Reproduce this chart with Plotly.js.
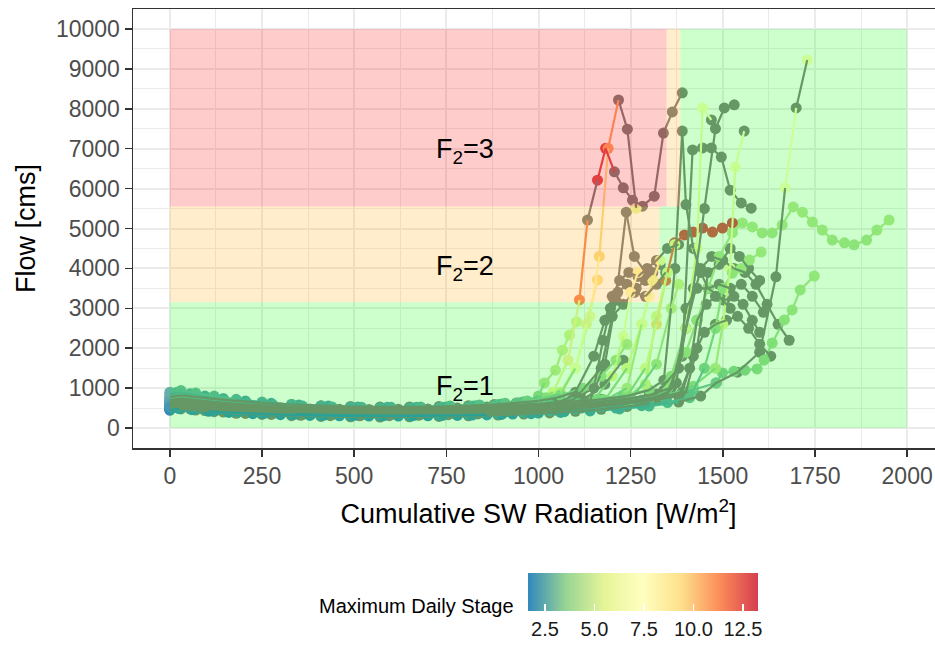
<!DOCTYPE html>
<html><head><meta charset="utf-8">
<script src="https://cdn.plot.ly/plotly-3.0.1.min.js"></script>
<style>html,body{margin:0;padding:0;overflow:hidden;background:#fff}#chart{width:944px;height:645px}</style>
</head><body><div id="chart"></div>
<script>
// ---------- data (Cumulative SW radiation, flow, maximum daily stage; null = no stage) ----------
const c1x=[0,20,50,90,140,200,270,350,430,510,590,670,750,830,900,960,1000,1016,1046,1065,1084,1103];
const c1y=[650,720,690,640,590,540,500,470,450,440,440,450,470,500,550,640,800,1130,1450,1950,2330,2660];
const c1s=[2.4,2.5,2.5,2.4,2.4,2.3,2.3,2.3,2.3,2.3,2.3,2.4,2.4,2.5,2.7,3.0,3.5,4.3,4.7,5.0,5.2,5.4];

const c2x=[0,30,70,120,180,250,330,410,490,570,650,730,810,890,960,1030,1100,1180,1260,1340,1420,1482,1499,1530,1560,1593,1612,1634,1667,1688,1710,1748];
const c2y=[520,560,520,470,420,380,350,330,320,320,325,335,350,370,400,440,500,580,680,800,960,1130,1380,1420,1450,1480,1700,2130,2710,2960,3460,3810];
const c2s=[1.64,1.8,1.8,1.8,1.8,1.8,1.8,1.8,1.8,1.8,1.8,1.9,1.9,2.0,2.0,2.1,2.2,2.3,2.5,2.7,2.9,3.1,3.3,3.4,3.4,3.5,3.6,3.8,4.0,4.1,4.2,4.3];

const c3x=[0,25,60,110,170,240,320,400,480,560,640,720,800,880,950,1020,1090,1160,1230,1300,1360,1400,1430,1460,1490,1526,1553,1580,1607,1634,1661,1691,1716,1743,1770,1797,1830,1856,1890,1918,1951];
const c3y=[600,650,610,560,510,470,440,420,410,410,420,430,450,480,520,570,640,720,820,960,1300,1900,2700,3500,4300,4900,5140,5040,4890,4890,5090,5540,5410,5160,4960,4710,4640,4590,4710,4960,5210];
const c3s=[2.5,2.6,2.6,2.5,2.5,2.4,2.4,2.4,2.4,2.4,2.4,2.5,2.5,2.6,2.7,2.8,3.0,3.2,3.4,3.6,3.8,4.0,4.1,4.2,4.2,4.3,4.3,4.3,4.2,4.2,4.3,4.4,4.4,4.3,4.3,4.2,4.2,4.1,4.2,4.3,4.4];

const c4x=[0,30,70,120,180,250,330,410,490,570,650,730,810,890,960,1030,1100,1170,1240,1290,1320,1345,1369,1396,1420,1445,1472,1499,1526];
const c4y=[560,600,560,520,480,440,410,390,380,380,390,400,420,450,480,520,580,660,800,1500,2600,3700,4640,4840,4910,5010,4910,5010,5140];
const c4s=[2.0,2.1,2.1,2.0,2.0,1.9,1.9,1.9,1.9,1.9,1.9,2.0,2.0,2.1,2.2,2.3,2.5,2.8,3.5,6.0,9.5,12.0,12.8,13.0,13.0,13.1,13.0,13.1,13.26];

const c5x=[0,25,60,100,150,210,280,350,420,500,580,660,740,820,890,950,1000,1040,1080,1111,1133,1160,1182,1206,1230,1255,1282,1314,1339,1363,1390];
const c5y=[720,780,740,690,640,590,550,520,500,490,490,500,520,550,590,640,720,900,1700,3210,5210,6210,7010,6420,6020,5710,5560,5810,7390,7920,8400];
const c5s=[2.6,2.7,2.7,2.6,2.6,2.5,2.5,2.4,2.4,2.4,2.4,2.5,2.6,2.7,2.9,3.2,3.8,5.5,8.5,11.5,null,12.8,12.9,null,null,null,null,null,null,null,null];

const c6x=[0,20,55,95,145,205,275,350,430,510,590,670,750,830,900,960,1010,1060,1100,1140,1165,1189,1217,1241,1265];
const c6y=[850,900,860,800,740,680,620,580,550,530,520,520,530,560,600,660,740,850,1500,2800,4300,7010,8220,7490,5510];
const c6s=[2.3,2.4,2.4,2.3,2.3,2.2,2.2,2.2,2.2,2.2,2.2,2.3,2.3,2.4,2.5,2.8,3.2,4.0,6.0,8.0,9.5,10.8,null,null,6.0];

const c7x=[0,30,70,120,180,250,330,410,490,570,650,730,810,890,960,1030,1100,1170,1240,1300,1350,1400,1430,1445,1469];
const c7y=[480,520,490,450,410,370,340,320,310,310,315,325,340,360,390,430,480,540,620,720,1000,2500,4500,8020,7720];
const c7s=[1.9,2.0,2.0,1.9,1.9,1.8,1.8,1.8,1.8,1.8,1.8,1.9,1.9,2.0,2.1,2.2,2.3,2.5,2.8,3.2,4.0,5.5,6.5,7.2,null];

const c8x=[0,25,65,110,165,230,305,385,465,545,625,705,785,865,935,1000,1070,1140,1210,1280,1350,1420,1480,1500,1520,1534,1558];
const c8y=[540,590,550,500,460,420,390,370,360,355,360,370,385,405,430,460,500,550,620,700,820,1050,1500,2600,4000,6540,7440];
const c8s=[2.1,2.2,2.2,2.1,2.1,2.0,2.0,2.0,2.0,2.0,2.0,2.0,2.1,2.1,2.2,2.3,2.4,2.5,2.7,2.9,3.2,3.6,4.5,5.5,6.5,7.0,null];

const c9x=[0,35,80,130,190,260,340,420,500,580,660,740,820,900,980,1060,1140,1220,1300,1380,1440,1482,1540,1600,1644,1669,1699,1729];
const c9y=[500,540,500,460,420,380,350,330,315,310,310,315,325,340,360,390,430,480,550,650,800,1130,1400,1900,3790,6020,8020,9220];
const c9s=[1.8,1.9,1.9,1.8,1.8,1.8,1.7,1.7,1.7,1.7,1.7,1.8,1.8,1.8,1.9,2.0,2.1,2.2,2.4,null,null,null,null,null,null,7.5,null,7.6];

const c10x=[0,25,60,100,150,210,280,360,440,520,600,680,760,840,910,970,1020,1060,1100,1130,1160];
const c10y=[760,820,780,720,670,620,580,550,530,520,520,530,550,580,620,680,760,900,1500,2600,3710];
const c10s=[2.5,2.6,2.6,2.5,2.5,2.4,2.4,2.4,2.4,2.4,2.4,2.5,2.6,2.7,2.9,3.2,3.8,5.0,7.0,8.5,9.3];

const c11x=[0,30,70,120,180,250,330,410,490,570,650,730,810,890,960,1030,1100,1150,1200,1230,1250,1270];
const c11y=[620,660,620,580,540,500,470,450,440,440,445,455,470,490,520,560,620,700,1300,2300,3400,3900];
const c11s=[2.2,2.3,2.3,2.2,2.2,2.1,2.1,2.1,2.1,2.1,2.1,2.2,2.2,2.3,2.4,2.6,2.9,3.5,5.5,7.0,7.8,8.0];

const c12x=[0,20,55,95,145,205,275,355,435,515,595,675,755,835,905,970,1040,1110,1180,1240,1280,1310,1330];
const c12y=[580,630,590,540,500,460,430,410,400,395,400,410,425,445,470,505,550,610,700,1000,2600,3700,4200];
const c12s=[2.0,2.1,2.1,2.0,2.0,1.9,1.9,1.9,1.9,1.9,1.9,2.0,2.0,2.1,2.2,2.3,2.5,2.8,3.3,4.5,5.5,6.2,6.5];

const c13x=[0,30,70,120,180,250,330,410,490,570,650,730,810,890,960,1030,1100,1170,1240,1290,1320,1350,1370];
const c13y=[660,700,660,610,560,520,490,470,460,455,460,470,490,520,550,590,640,700,780,1100,2800,3900,4600];
const c13s=[2.4,2.5,2.5,2.4,2.4,2.3,2.3,2.3,2.3,2.3,2.3,2.4,2.4,2.5,2.6,2.8,3.0,3.4,4.0,5.0,5.8,6.0,6.1];

const c14x=[0,25,60,105,160,225,300,380,460,540,620,700,780,860,930,1000,1070,1140,1210,1280,1350,1410,1450,1480,1500,1526,1550,1572,1604];
const c14y=[450,490,460,420,390,360,335,315,305,300,300,305,315,330,350,375,410,450,500,560,640,760,1500,2500,3500,3880,4000,4210,4410];
const c14s=[1.7,1.8,1.8,1.7,1.7,1.7,1.7,1.7,1.7,1.7,1.7,1.7,1.7,1.8,1.8,1.9,2.0,2.1,2.2,2.3,2.5,2.8,3.3,3.8,4.0,4.2,4.3,4.3,4.4];

const c15x=[0,30,70,120,180,250,330,410,490,570,650,730,810,880,940,1000,1060,1120,1170,1210,1240];
const c15y=[900,940,880,800,720,650,590,550,520,500,495,500,520,560,620,700,820,1000,1300,1700,2100];
const c15s=[2.6,2.7,2.7,2.6,2.5,2.4,2.4,2.3,2.3,2.3,2.3,2.4,2.5,2.6,2.8,3.0,3.3,3.6,3.9,4.2,4.5];

const c16x=[0,30,75,125,185,255,335,415,495,575,655,735,815,895,965,1035,1105,1180,1240,1280,1300];
const c16y=[590,630,600,555,515,475,445,425,415,410,415,425,440,465,495,535,600,700,1500,2600,3300];
const c16s=[2.3,2.4,2.4,2.3,2.3,2.2,2.2,2.2,2.2,2.2,2.2,2.3,2.3,2.4,2.5,2.7,3.0,3.6,5.5,6.8,7.2];

const c17x=[0,25,65,115,175,245,325,405,485,565,645,725,805,885,955,1025,1095,1165,1250,1320,1360,1380];
const c17y=[530,570,540,500,460,420,390,370,360,355,360,370,385,405,430,465,510,570,700,1600,3000,3600];
const c17s=[2.0,2.1,2.1,2.0,2.0,1.9,1.9,1.9,1.9,1.9,1.9,2.0,2.0,2.1,2.2,2.3,2.5,2.7,3.2,4.2,4.8,5.0];

// series without stage record (drawn in the NA colour)
const g1x=[0,30,70,120,180,250,330,410,490,570,650,730,810,890,960,1030,1100,1170,1240,1300,1350,1390,1418,1445,1469,1496,1520,1550,1577];
const g1y=[560,600,560,510,470,430,400,380,370,365,370,380,395,415,440,470,510,560,620,700,900,1800,6970,7020,7020,6790,5960,5640,5510];
const g2x=[0,25,60,105,160,225,300,380,460,540,620,700,780,860,930,1000,1080,1160,1240,1320,1380,1420,1450,1480,1504,1531];
const g2y=[620,680,640,590,540,500,460,440,425,420,425,435,450,470,500,540,590,650,730,850,1500,3500,5500,7500,8020,8100];
const g3x=[0,30,70,120,180,250,330,410,490,570,650,730,810,890,960,1030,1100,1170,1240,1300,1340,1370,1390,1400,1420,1440,1460,1490,1520];
const g3y=[700,740,700,650,600,560,520,500,490,485,490,500,520,545,575,610,660,720,800,950,1200,4000,7440,5600,4500,3900,3500,3300,3000];
const g4x=[0,25,60,100,150,210,280,360,440,520,600,680,760,840,910,980,1050,1120,1190,1260,1330,1347,1374,1400,1430,1460,1490,1520,1550,1580,1610];
const g4y=[500,540,510,470,430,395,365,345,335,330,335,345,360,380,405,435,475,525,590,680,800,830,1130,3000,3500,3500,3600,3500,3600,3300,2900];
const g5x=[0,30,70,120,180,250,330,410,490,570,650,730,810,890,960,1030,1100,1170,1240,1300,1340,1360,1400,1440,1470,1500,1530,1560,1590,1620,1650,1680];
const g5y=[640,680,640,600,560,520,490,470,460,455,460,470,485,505,530,560,600,650,720,820,950,1000,2500,4000,4300,4200,4000,3900,3600,3100,2600,2200];
const g6x=[0,20,55,95,145,205,275,355,435,515,595,675,755,835,905,975,1045,1115,1185,1255,1325,1390,1420,1450,1480,1510,1540,1570,1600,1630];
const g6y=[470,510,480,440,400,365,340,320,310,305,310,320,335,355,380,410,450,500,560,640,760,900,1800,2400,2600,2700,2800,2500,2100,1800];
const g7x=[0,30,70,120,180,250,330,410,490,570,650,730,810,880,940,1000,1050,1100,1150,1180,1200,1220,1245,1270,1295,1320,1350,1380];
const g7y=[780,820,780,730,680,630,590,560,540,530,530,540,560,590,630,680,760,900,1800,2700,3300,3700,3900,3800,4000,4200,4500,4600];
const g8x=[0,25,60,105,160,225,300,380,460,540,620,700,780,860,930,995,1055,1115,1170,1200,1230,1260,1290,1320,1345];
const g8y=[660,700,670,620,580,540,500,480,470,465,470,480,500,525,555,595,650,900,1500,2800,3100,3400,3300,3600,3900];
const g9x=[0,30,70,120,180,250,330,410,490,570,650,730,810,890,960,1030,1100,1170,1240,1300];
const g9y=[450,480,450,410,370,340,310,290,280,275,280,290,305,325,350,380,420,470,540,620];
const g10x=[0,25,60,100,150,210,280,360,440,520,600,680,760,840,910,980,1050,1120,1180,1230];
const g10y=[600,640,610,570,530,490,460,440,430,425,430,440,455,475,505,545,600,700,1100,1700];
const g11x=[0,30,70,120,180,250,330,410,490,570,650,730,810,890,960,1030,1090,1140,1180,1210,1238,1260,1290];
const g11y=[540,580,550,510,470,440,410,395,385,380,385,395,410,430,455,490,540,700,1600,3200,5410,4300,3900];
const g12x=[0,30,70,120,180,250,330,410,490,570,650,730,810,890,960,1030,1090,1150,1175,1195,1215,1240,1265,1290,1310,1330];
const g12y=[680,720,690,640,600,560,530,510,500,495,500,510,530,555,585,620,700,1000,2200,3000,3400,3600,3500,3700,3900,4100];
const g13x=[0,25,65,115,175,245,325,405,485,565,645,725,805,885,955,1025,1095,1165,1235,1305,1380,1410,1430,1455,1480,1505,1530,1555,1580,1600];
const g13y=[520,560,530,490,450,415,385,365,355,350,355,365,380,400,425,455,495,545,610,690,800,1500,2700,3100,3300,3200,3300,3100,2700,2400];
const g14x=[0,30,70,120,180,250,330,410,490,570,650,730,810,890,960,1030,1100,1170,1240,1310,1400,1430,1460,1490,1520,1545,1570,1600];
const g14y=[580,620,590,550,510,470,440,420,410,405,410,420,435,455,480,510,550,600,660,740,900,2000,3900,4100,4500,4300,4000,3700];

// flow-class zones (x from, x to, y from, y to, class)
const zoneX0=[0,1328,1385,0,1347,0];
const zoneX1=[2000,2000,2000,1328,1385,1347];
const zoneY0=[0,3150,5550,3150,5550,5550];
const zoneY1=[3150,5550,10000,5550,10000,10000];
const zoneClass=[1,1,1,2,2,3];
const classLabels=['F<sub>2</sub>=1','F<sub>2</sub>=2','F<sub>2</sub>=3'];
const classLabelX=[800,800,800];
const classLabelY=[1000,4000,6950];

const xTicks=[0,250,500,750,1000,1250,1500,1750,2000];
const xTickText=['0','250','500','750','1000','1250','1500','1750','2000'];
const yTicks=[0,1000,2000,3000,4000,5000,6000,7000,8000,9000,10000];
const yTickText=['0','1000','2000','3000','4000','5000','6000','7000','8000','9000','10000'];
const stageTicks=[2.5,5,7.5,10,12.5];
const stageTickText=['2.5','5.0','7.5','10.0','12.5'];

// ---------- build ----------
const series=[
 [c1x,c1y,c1s],[c2x,c2y,c2s],[c3x,c3y,c3s],[c4x,c4y,c4s],[c5x,c5y,c5s],[c6x,c6y,c6s],
 [c7x,c7y,c7s],[c8x,c8y,c8s],[c9x,c9y,c9s],[c10x,c10y,c10s],[c11x,c11y,c11s],[c12x,c12y,c12s],
 [c13x,c13y,c13s],[c14x,c14y,c14s],[c15x,c15y,c15s],[c16x,c16y,c16s],[c17x,c17y,c17s],
 [g1x,g1y,null],[g2x,g2y,null],[g3x,g3y,null],[g4x,g4y,null],[g5x,g5y,null],[g6x,g6y,null],
 [g7x,g7y,null],[g8x,g8y,null],[g9x,g9y,null],[g10x,g10y,null],[g11x,g11y,null],
 [g12x,g12y,null],[g13x,g13y,null],[g14x,g14y,null]
];
const NA_COL='#7F7F7F';
const palette=['#3288BD','#99D594','#E6F598','#FFFFBF','#FEE08B','#FC8D59','#D53E4F'];
const colorscale=palette.map((c,i)=>[i/(palette.length-1),c]);

let allS=[];
series.forEach(s=>{ if(s[2]) s[2].forEach(v=>{ if(v!==null) allS.push(v); }); });
const cmin=Math.min(...allS), cmax=Math.max(...allS);

function hex2rgb(h){return [parseInt(h.slice(1,3),16),parseInt(h.slice(3,5),16),parseInt(h.slice(5,7),16)];}
function colorAt(v){
  let t=(v-cmin)/(cmax-cmin); t=Math.max(0,Math.min(1,t));
  const p=t*(palette.length-1); const i=Math.min(Math.floor(p),palette.length-2); const f=p-i;
  const a=hex2rgb(palette[i]), b=hex2rgb(palette[i+1]);
  return 'rgb('+a.map((u,k)=>Math.round(u+(b[k]-u)*f)).join(',')+')';
}

const naPts={x:[],y:[]}, colPts={x:[],y:[],c:[]};
const segGroups={};
series.forEach(([xs,ys,ss])=>{
  for(let i=0;i<xs.length;i++){
    const v=ss?ss[i]:null;
    if(v===null){naPts.x.push(xs[i]);naPts.y.push(ys[i]);}
    else {colPts.x.push(xs[i]);colPts.y.push(ys[i]);colPts.c.push(v);}
    if(i<xs.length-1){
      const key=v===null?'NA':(Math.round(v*10)/10).toFixed(1);
      if(!segGroups[key]) segGroups[key]={x:[],y:[]};
      segGroups[key].x.push(xs[i],xs[i+1],null);
      segGroups[key].y.push(ys[i],ys[i+1],null);
    }
  }
});

const traces=[];
traces.push({type:'scatter',mode:'markers',x:naPts.x,y:naPts.y,hoverinfo:'skip',
  marker:{size:11,color:NA_COL,line:{width:0}}});
traces.push({type:'scatter',mode:'markers',x:colPts.x,y:colPts.y,hoverinfo:'skip',
  marker:{size:11,color:colPts.c,colorscale:colorscale,cmin:cmin,cmax:cmax,line:{width:0},
    showscale:true,
    colorbar:{orientation:'h',thickness:38,thicknessmode:'pixels',len:230,lenmode:'pixels',
      x:(528-133)/811,xanchor:'left',y:(448-573)/439,yanchor:'top',xpad:0,ypad:0,
      outlinewidth:0,tickvals:stageTicks,ticktext:stageTickText,ticks:'inside',ticklen:7,
      tickcolor:'white',tickwidth:1.5,tickfont:{size:20,color:'#1A1A1A'},title:{text:''}}}});
Object.keys(segGroups).forEach(k=>{
  const col=k==='NA'?NA_COL:colorAt(parseFloat(k));
  traces.push({type:'scatter',mode:'lines',x:segGroups[k].x,y:segGroups[k].y,hoverinfo:'skip',
    connectgaps:false,line:{color:col,width:2.2}});
});

const zoneFill={1:'rgba(0,255,0,0.2)',2:'rgba(255,165,0,0.2)',3:'rgba(255,0,0,0.2)'};
const shapes=zoneX0.map((x0,i)=>({type:'rect',xref:'x',yref:'y',layer:'above',
  x0:x0,x1:zoneX1[i],y0:zoneY0[i],y1:zoneY1[i],fillcolor:zoneFill[zoneClass[i]],line:{width:0}}));

const annotations=classLabels.map((t,i)=>({x:classLabelX[i],y:classLabelY[i],xref:'x',yref:'y',
  text:t,showarrow:false,font:{size:27,color:'black'},xanchor:'center',yanchor:'middle'}));
annotations.push({xref:'paper',yref:'paper',x:(516-133)/811,y:(448-606)/439,xanchor:'right',yanchor:'middle',
  text:'Maximum Daily Stage',showarrow:false,font:{size:20,color:'black'}});

const axisCommon={ticks:'outside',ticklen:7,tickwidth:1.5,tickcolor:'#333333',showline:true,
  linecolor:'#333333',linewidth:1.5,showgrid:true,gridcolor:'#EBEBEB',gridwidth:2,zeroline:false,
  tickfont:{size:23,color:'#4D4D4D'}};

const layout={
  width:944,height:645,margin:{l:133,r:0,t:9,b:197,autoexpand:false},
  paper_bgcolor:'white',plot_bgcolor:'white',showlegend:false,hovermode:false,
  font:{family:'Liberation Sans, Arial, sans-serif',color:'black'},
  xaxis:Object.assign({},axisCommon,{range:[-100,2100],tickmode:'array',tickvals:xTicks,ticktext:xTickText,mirror:true,
    minor:{tickvals:xTicks.map(v=>v+125),showgrid:true,gridcolor:'#EBEBEB',gridwidth:1,ticks:''},
    title:{text:'Cumulative SW Radiation [W/m<sup>2</sup>]',font:{size:27,color:'black'},standoff:16}}),
  yaxis:Object.assign({},axisCommon,{range:[-500,10500],tickmode:'array',tickvals:yTicks,ticktext:yTickText,mirror:true,
    minor:{tickvals:yTicks.map(v=>v+500),showgrid:true,gridcolor:'#EBEBEB',gridwidth:1,ticks:''},
    title:{text:'Flow [cms]',font:{size:27,color:'black'},standoff:12}}),
  shapes:shapes,annotations:annotations
};
Plotly.newPlot('chart',traces,layout,{displayModeBar:false,staticPlot:true});
</script></body></html>
